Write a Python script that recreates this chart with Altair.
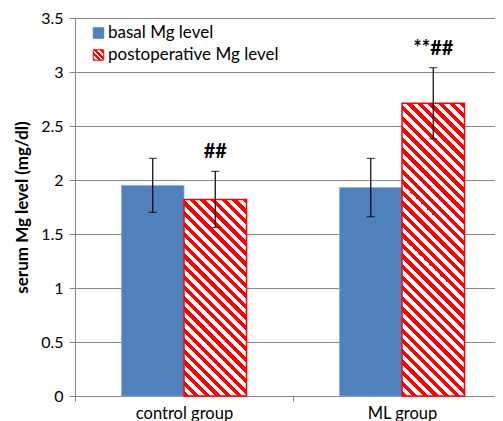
import altair as alt
import pandas as pd

# ---- data ----
groups = ["control group", "ML group"]
series = ["basal Mg level", "postoperative Mg level"]
basal_mean = [1.95, 1.93]
basal_sd = [0.25, 0.27]
post_mean = [1.82, 2.71]
post_sd = [0.26, 0.33]
basal_marks = ["", ""]
post_marks = ["##", "**##"]
y_ticks = [0, 0.5, 1, 1.5, 2, 2.5, 3, 3.5]

rows = []
for i, g in enumerate(groups):
    rows.append(dict(group=g, series=series[0], mean=basal_mean[i], sd=basal_sd[i], mark=basal_marks[i]))
    rows.append(dict(group=g, series=series[1], mean=post_mean[i], sd=post_sd[i], mark=post_marks[i]))
df = pd.DataFrame(rows)
df["lo"] = df["mean"] - df["sd"]
df["hi"] = df["mean"] + df["sd"]
legend_df = pd.DataFrame({"series": series})

# ---- layout ----
W, H = 420, 378          # visible plot area
X_RANGE = 436            # category axis continues past the right edge
YMAX = 3.5
PX_PER_UNIT = H / YMAX
BAND = X_RANGE / len(groups)
PAD_OUTER = 0.744
BAR_W = BAND / (2 + 2 * PAD_OUTER)

BLUE = "#4F81BD"
RED = "#FF0000"
GRID = "#868686"
FONT = "Lato"


def stripe_gradient(w, h, period=10.6, red_frac=0.5):
    """Diagonal '\\' red/white stripes as a hard-stop linear gradient."""
    s = (w + h) * w / (w * w + h * h)
    x2 = s
    y2 = 1 - s * h / w
    n = (w + h) / period
    stops = []
    k = 0
    while k / n < 1:
        a = k / n
        b = min((k + red_frac) / n, 1)
        c = min((k + 1) / n, 1)
        stops += [
            {"offset": a, "color": RED},
            {"offset": b, "color": RED},
            {"offset": b, "color": "#FFFFFF"},
            {"offset": c, "color": "#FFFFFF"},
        ]
        k += 1
    return {"gradient": "linear", "x1": 0, "y1": 1, "x2": x2, "y2": y2, "stops": stops}


base = alt.Chart(df)

x_enc = alt.X(
    "group:N",
    sort=groups,
    scale=alt.Scale(paddingInner=0, paddingOuter=0, range=[0, X_RANGE]),
    axis=alt.Axis(
        title=None,
        tickBand="extent",
        labelAngle=0,
        labelFontSize=16.5,
        labelPadding=4,
        labelColor="#000000",
        domainColor=GRID,
        tickColor=GRID,
        tickSize=5,
        grid=False,
    ),
)
xo_enc = alt.XOffset(
    "series:N", sort=series, scale=alt.Scale(paddingInner=0, paddingOuter=PAD_OUTER)
)
y_scale = alt.Scale(domain=[0, YMAX], nice=False)
y_axis = alt.Axis(
    values=y_ticks,
    format="~g",
    title="serum Mg level (mg/dl)",
    titleFontSize=17,
    titleFontWeight="bold",
    titleColor="#000000",
    titlePadding=9,
    labelFontSize=16,
    labelColor="#000000",
    labelPadding=6,
    tickSize=6,
    tickColor=GRID,
    domainColor=GRID,
    gridColor=GRID,
    gridWidth=1,
    labelFlush=False,
)


def yq(field):
    return alt.Y(field, type="quantitative", scale=y_scale, axis=y_axis)


layers = []
# basal bars
layers.append(
    base.transform_filter(alt.datum.series == series[0])
    .mark_bar(fill=BLUE, stroke="#8EAEDA", strokeWidth=0.8)
    .encode(x=x_enc, xOffset=xo_enc, y=yq("mean"))
)
# postoperative bars with diagonal stripes
for i, g in enumerate(groups):
    grad = stripe_gradient(BAR_W, post_mean[i] * PX_PER_UNIT)
    layers.append(
        base.transform_filter((alt.datum.group == g) & (alt.datum.series == series[1]))
        .mark_bar(fill=grad, stroke=RED, strokeWidth=1.5)
        .encode(x=x_enc, xOffset=xo_enc, y=yq("mean"))
    )

rule = base.mark_rule(color="#000000", strokeWidth=1.2).encode(
    x=x_enc, xOffset=xo_enc, y=yq("lo"), y2="hi:Q"
)
cap_lo = base.mark_tick(color="#000000", size=8, thickness=1.2).encode(
    x=x_enc, xOffset=xo_enc, y=yq("lo")
)
cap_hi = base.mark_tick(color="#000000", size=8, thickness=1.2).encode(
    x=x_enc, xOffset=xo_enc, y=yq("hi")
)
labels = base.mark_text(
    fontSize=20, fontWeight="bold", baseline="bottom", dy=-9, color="#000000"
).encode(x=x_enc, xOffset=xo_enc, y=yq("hi"), text="mark:N")
layers += [rule, cap_lo, cap_hi, labels]

# manual legend (top-left, inside plot)
legend_fills = [BLUE, stripe_gradient(10.5, 10.5, period=5.5)]
legend_strokes = [BLUE, RED]
for i, s in enumerate(series):
    row = alt.Chart(legend_df).transform_filter(alt.datum.series == s)
    layers.append(
        row.mark_square(size=110, fill=legend_fills[i], stroke=legend_strokes[i],
                        strokeWidth=1, opacity=1)
        .encode(x=alt.value(23.5), y=alt.value(15 + 22 * i))
    )
    layers.append(
        row.mark_text(align="left", baseline="middle", fontSize=17, color="#000000")
        .encode(x=alt.value(33), y=alt.value(15 + 22 * i), text="series:N")
    )

chart = (
    alt.layer(*layers)
    .properties(
        width=W,
        height=H,
        autosize=alt.AutoSizeParams(type="none"),
        padding={"left": 67, "top": 10, "right": 0, "bottom": 25},
    )
    .configure(font=FONT)
    .configure_view(stroke=None)
)

chart.save("out.html", embed_options={"renderer": "svg", "actions": False})
